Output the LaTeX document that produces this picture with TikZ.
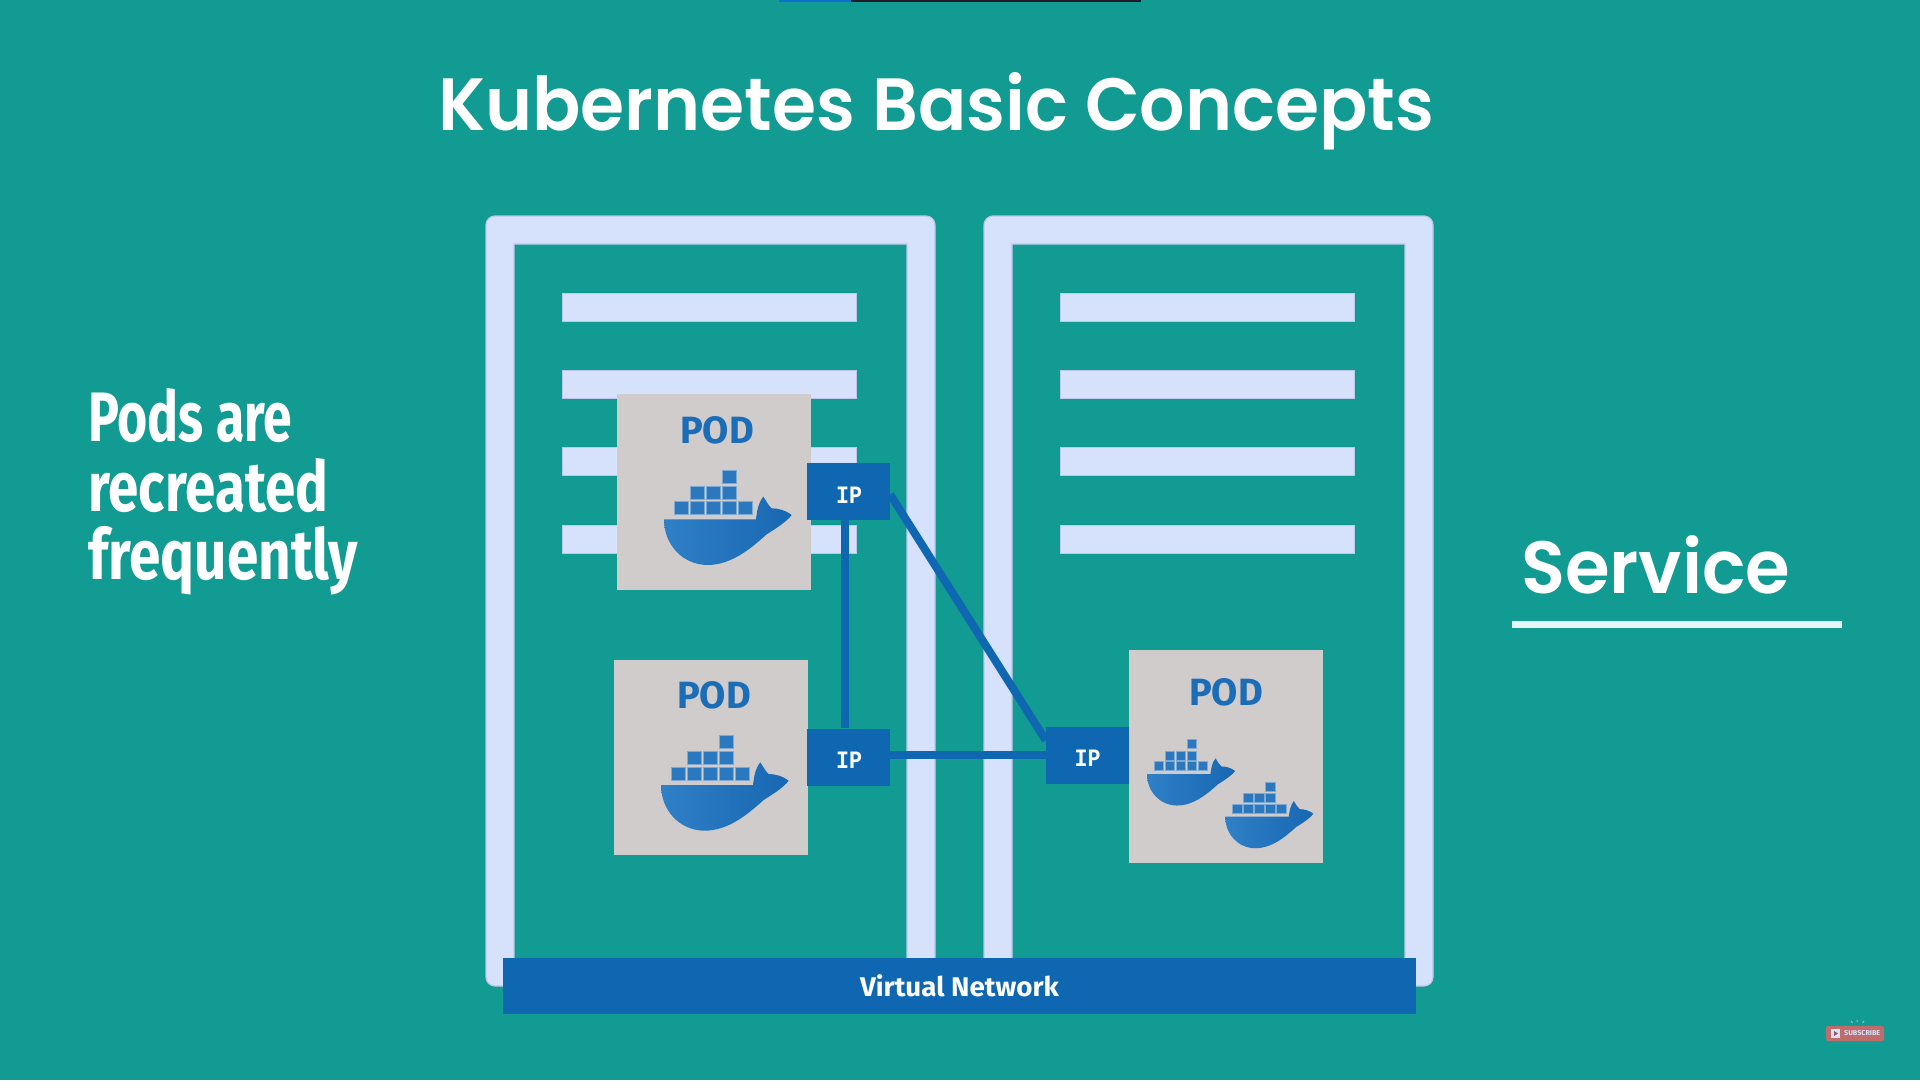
\documentclass[tikz,border=0pt]{standalone}
\usepackage{fontspec}
\usepackage{graphicx}
\setmainfont{Fira Sans}
\newfontfamily\titlef{Poppins SemiBold}
\newfontfamily\handf{Fira Sans}
\newfontfamily\ipf{Liberation Mono}
\definecolor{bgc}{HTML}{119B92}
\definecolor{framec}{HTML}{D6E2FB}
\definecolor{frameedge}{HTML}{BFC6EE}
\definecolor{podc}{HTML}{D0CCCC}
\definecolor{netc}{HTML}{0F67B1}
\definecolor{podtext}{HTML}{1B6DB8}
\definecolor{whaleL}{HTML}{2F80C6}
\definecolor{whaleR}{HTML}{1767B2}
\definecolor{blockc}{HTML}{2C78BE}
\definecolor{blockedge}{HTML}{7DA9D2}
\definecolor{subc}{HTML}{BE6C6C}
\definecolor{stripblue}{HTML}{0A6FCF}
\definecolor{stripdark}{HTML}{1E1E22}
\newcommand{\wfit}[2]{\resizebox{#1pt}{\height}{#2}}
\tikzset{
  x=1pt,y=-1pt,
  server/.style={fill=framec,draw=frameedge,line width=1.2pt,even odd rule},
  rackbar/.style={fill=framec,draw=frameedge,line width=.8pt},
  podbox/.style={fill=podc,draw=none,inner sep=0pt,minimum width=#1},
  ipbox/.style={fill=netc,inner sep=0pt,minimum width=83pt,minimum height=57pt},
  iptext/.style={text=white,inner sep=0pt,anchor=base,font=\ipf\bfseries\fontsize{25}{25}\selectfont},
  link/.style={draw=netc,line width=8pt},
  podlabel/.style={text=podtext,inner sep=0pt,anchor=base,font=\handf\bfseries\fontsize{38}{38}\selectfont},
  handtext/.style={text=white,inner sep=0pt,anchor=base west,font=\handf\bfseries\fontsize{70}{70}\selectfont},
  cargo/.style={fill=blockc,draw=blockedge,line width=1pt},
  whale/.pic={
    \foreach \c in {0,...,4}{\path[cargo] (10.7+16*\c,-17.7) rectangle +(13.6,13);}
    \foreach \c in {1,2,3}{\path[cargo] (10.7+16*\c,-33.3) rectangle +(13.6,13);}
    \path[cargo] (58.7,-49.3) rectangle +(13.6,13);
    \shade[left color=whaleL,right color=whaleR]
      (0,0) -- (92,0) .. controls (93,-8) and (94,-16) .. (99.3,-22.7)
      .. controls (102,-19) and (104,-14) .. (107.7,-11)
      .. controls (114,-11) and (122,-9) .. (127.7,-4.3)
      .. controls (122,3) and (112,9) .. (102.7,15)
      .. controls (88,28) and (68,46) .. (42.7,45.7)
      .. controls (18,45) and (0,25) .. (0,0) -- cycle;
  }
}
\begin{document}
\begin{tikzpicture}
\fill[bgc] (0,0) rectangle (1920,1080);
\useasboundingbox (0,0) rectangle (1920,1080);
% top strip
\fill[stripblue] (779,0) rectangle (851,2);
\fill[stripdark] (851,0) rectangle (1141,2);
% title
\node[text=white,inner sep=0pt,anchor=base west,font=\titlef\fontsize{74}{74}\selectfont] (title) at (438,130) {\wfit{996}{Kubernetes Basic Concepts}};
% servers
\foreach \dx in {0,498}{
  \path[server] [rounded corners=9pt] (486+\dx,216) rectangle (935+\dx,986)
     [sharp corners] (514+\dx,244) rectangle (907+\dx,970);
  \foreach \yy in {293,370,447,525}{
    \path[rackbar] (562+\dx,\yy) rectangle (856+\dx,\yy+28);
  }
}
% network
\node[fill=netc,text=white,inner sep=0pt,minimum width=913pt,minimum height=56pt,font=\handf\bfseries\fontsize{27}{27}\selectfont] (net) at (959.5,986) {\wfit{199}{Virtual Network}};
% pods
\node[podbox=194pt,minimum height=196pt] (pod1) at (714,492) {};
\node[podbox=194pt,minimum height=195pt] (pod2) at (711,757.5) {};
\node[podbox=194pt,minimum height=213pt] (pod3) at (1226,756.5) {};
\node[podlabel] (pod1t) at (717,443) {POD};
\node[podlabel] (pod2t) at (714,708) {POD};
\node[podlabel] (pod3t) at (1226,705) {POD};
\pic at (664,519.3) {whale};
\pic at (661,785) {whale};
\pic[scale=.69] at (1147,774) {whale};
\pic[scale=.69] at (1225.3,816.7) {whale};
% IP boxes
\node[ipbox] (ip1) at (848.5,491.5) {};
\node[ipbox] (ip2) at (848.5,757) {};
\node[ipbox] (ip3) at (1087.5,755) {};
\node[iptext] (ip1t) at (849,503) {\wfit{26}{IP}};
\node[iptext] (ip2t) at (849,768) {\wfit{26}{IP}};
\node[iptext] (ip3t) at (1087.5,766) {\wfit{26}{IP}};
% links
\draw[link] ([xshift=-3.5pt]ip1.south) -- ([xshift=-3.5pt]ip2.north);
\draw[link] (ip3.west -| ip2.east) -- (ip3.west);
\draw[link] ([yshift=-3pt]ip1.east) -- ([yshift=-14pt]ip3.north west);
% left text
\node[handtext] (t1) at (88,441) {\wfit{204}{Pods are}};
\node[handtext] (t2) at (88,511) {\wfit{240}{recreated}};
\node[handtext] (t3) at (88,579) {\wfit{270}{frequently}};
% service
\node[text=white,inner sep=0pt,anchor=base west,font=\titlef\fontsize{74}{74}\selectfont] (svc) at (1521,593) {\wfit{269}{Service}};
\fill[white!90!bgc] (1512,621) rectangle (1842,628);
% subscribe
\node[fill=subc,rounded corners=2pt,minimum width=58pt,minimum height=15pt,inner sep=0pt] (sub) at (1855,1033.5) {};
\fill[framec] (1831,1029) rectangle (1840,1038);
\fill[subc!80!black] (1834,1031) -- (1838,1033.5) -- (1834,1036) -- cycle;
\node[text=framec,inner sep=0pt,anchor=west,font=\bfseries\fontsize{7}{7}\selectfont] (subt) at (1844,1033.5) {\wfit{36}{SUBSCRIBE}};
\draw[framec!60!bgc,line width=1pt] (1851,1021) -- (1852.5,1023) (1857,1020) -- (1857,1022) (1864,1021) -- (1862.5,1023);
\end{tikzpicture}
\end{document}
